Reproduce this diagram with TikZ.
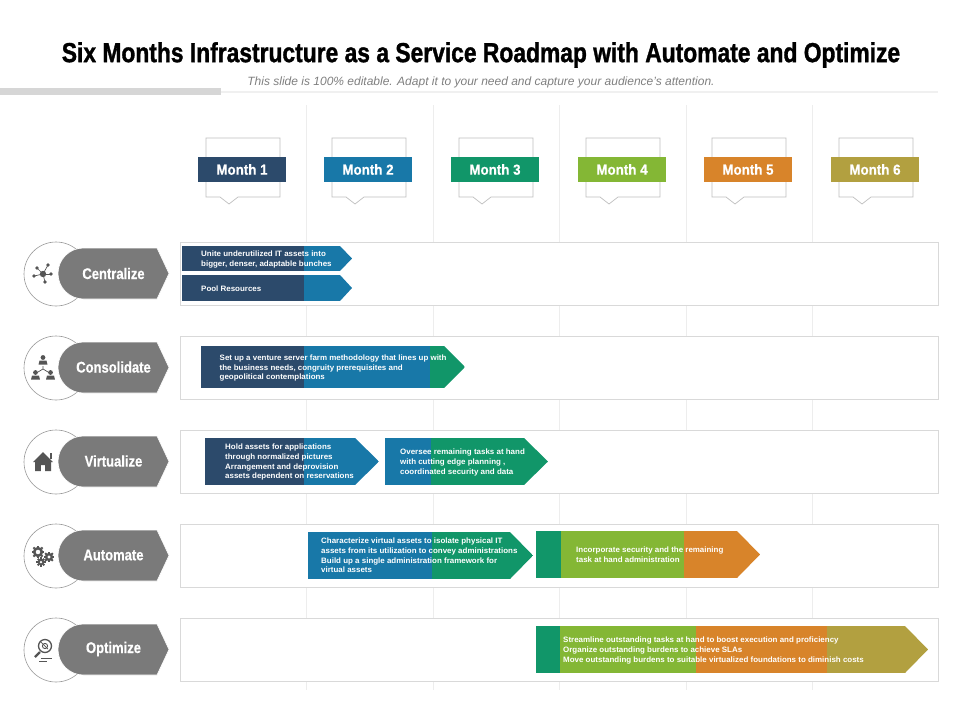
\documentclass[tikz,border=0pt]{standalone}
\usepackage{fontspec}
\setmainfont{Liberation Sans}
\newfontfamily\titlefont[FakeStretch=0.83,FakeBold=1.2]{Liberation Sans Bold}
\newfontfamily\labelfont[FakeStretch=0.92,FakeBold=0.5]{Liberation Sans Bold}
\newfontfamily\pillfont[FakeStretch=0.84,FakeBold=0.6]{Liberation Sans Bold}
\newfontfamily\smallfont[FakeStretch=1.02]{Liberation Sans Bold}
\definecolor{navy}{HTML}{2C4A6B}
\definecolor{blu}{HTML}{1878A8}
\definecolor{grn}{HTML}{119669}
\definecolor{lime}{HTML}{84B735}
\definecolor{orng}{HTML}{D8842A}
\definecolor{olive}{HTML}{B2A040}
\definecolor{pillgray}{HTML}{7A7A7A}
\definecolor{icongray}{HTML}{555555}
\newcommand\arrowclip[5]{\clip (#1,#4)--(#2,#4)--(#3,{(#4+#5)/2})--(#2,#5)--(#1,#5)--cycle;}
\newcommand\seg[5]{\fill[#1] (#2,#4) rectangle (#3,#5);}
\tikzset{
  rowbox/.style={draw=black!15,fill=white,line width=0.9pt},
  gridline/.style={draw=black!7,line width=0.8pt},
  monthbar/.style={minimum width=88pt,minimum height=25pt,inner sep=0pt,text=white,
    font=\labelfont\fontsize{14.5}{16}\selectfont},
  callout/.style={draw=black!25,line width=0.7pt,fill=white},
  ring/.style={draw=black!40,line width=0.6pt,fill=white},
  pill/.style={fill=pillgray,draw=white,line width=0.6pt},
  pilltext/.style={text=white,inner sep=0pt,font=\pillfont\fontsize{15.5}{17}\selectfont},
  tasktext/.style={text=white,inner sep=0pt,anchor=north west,align=left,
    font=\smallfont\fontsize{7.8}{9.7}\selectfont},
  icon/.style={fill=icongray,draw=none},
  iconline/.style={draw=icongray,line width=0.7pt},
}
\begin{document}
\begin{tikzpicture}[x=1pt,y=-1pt]
\useasboundingbox (0,0) rectangle (960,720);
\fill[white] (0,0) rectangle (960,720);
% header
\node[inner sep=0pt,font=\titlefont\fontsize{27.5}{30}\selectfont] (title) at (481,55) {Six Months Infrastructure as a Service Roadmap with Automate and Optimize};
\node[inner sep=0pt,text=black!50,font=\itshape\fontsize{12}{14}\selectfont] (subtitle) at (481,82) {This slide is 100\% editable. Adapt it to your need and capture your audience’s attention.};
\fill[black!6] (221,90.5) rectangle (938,93);
\fill[black!16] (0,88) rectangle (221,95);
% grid
\foreach \gx in {306,433,559.5,686,812.5}{\draw[gridline] (\gx,105) -- (\gx,690);}
% months
\foreach \bx/\n/\c in {242/1/navy,368/2/blu,495/3/grn,622/4/lime,748/5/orng,875/6/olive}{
  \draw[callout] (\bx-36,138) -- (\bx+38,138) -- (\bx+38,197) -- (\bx-4,197) -- (\bx-13,204) -- (\bx-22,197) -- (\bx-36,197) -- cycle;
  \node[monthbar,fill=\c] (month\n) at (\bx,169.5) {Month \n};
}
% rows
\foreach \ry/\nm in {242/r1,336/r2,430/r3,524/r4,618/r5}{
  \draw[rowbox] (180.5,\ry) rectangle (938,\ry+63);
  \draw[ring] (56,\ry+32) circle (32);
  \draw[pill] (83.5,\ry+6) -- (157,\ry+6) -- (169,\ry+31.5) -- (157,\ry+57) -- (83.5,\ry+57) arc[start angle=90,end angle=270,radius=25.5] -- cycle;
}
\foreach \ry/\nm/\tx in {273.5/p1/Centralize,367/p2/Consolidate,461/p3/Virtualize,555/p4/Automate,649/p5/Optimize}{
  \node[pilltext] (\nm) at (113.5,\ry) {\tx};
}
% centralize arrows
\begin{scope}\arrowclip{182}{340}{352}{246}{271}
\seg{navy}{182}{304}{246}{271}\seg{blu}{304}{352}{246}{271}\end{scope}
\node[tasktext] (t1) at (201,251) {Unite underutilized IT assets into\\bigger, denser, adaptable bunches};
\begin{scope}\arrowclip{182}{340}{352}{275}{301}
\seg{navy}{182}{304}{275}{301}\seg{blu}{304}{352}{275}{301}\end{scope}
\node[tasktext] (t2) at (201,285.5) {Pool Resources};
% consolidate
\begin{scope}\arrowclip{201}{444}{465}{346}{388}
\seg{navy}{201}{304}{346}{388}\seg{blu}{304}{430}{346}{388}\seg{grn}{430}{465}{346}{388}\end{scope}
\node[tasktext] (t3) at (219.5,354.5) {Set up a venture server farm methodology that lines up with\\the business needs, congruity prerequisites and\\geopolitical contemplations};
% virtualize
\begin{scope}\arrowclip{205}{355}{379}{438}{485}
\seg{navy}{205}{304}{438}{485}\seg{blu}{304}{379}{438}{485}\end{scope}
\node[tasktext] (t4) at (225,444) {Hold assets for applications\\through normalized pictures\\Arrangement and deprovision\\assets dependent on reservations};
\begin{scope}\arrowclip{385}{524}{548}{438}{485}
\seg{blu}{385}{431}{438}{485}\seg{grn}{431}{548}{438}{485}\end{scope}
\node[tasktext] (t5) at (400,449) {Oversee remaining tasks at hand\\with cutting edge planning ,\\coordinated security and data};
% automate
\begin{scope}\arrowclip{308}{510}{533}{532}{579}
\seg{blu}{308}{432}{532}{579}\seg{grn}{432}{533}{532}{579}\end{scope}
\node[tasktext] (t6) at (321,538) {Characterize virtual assets to isolate physical IT\\assets from its utilization to convey administrations\\Build up a single administration framework for\\virtual assets};
\begin{scope}\arrowclip{536}{737}{760}{531}{578}
\seg{grn}{536}{561}{531}{578}\seg{lime}{561}{684}{531}{578}\seg{orng}{684}{760}{531}{578}\end{scope}
\node[tasktext] (t7) at (576,547) {Incorporate security and the remaining\\task at hand administration};
% optimize
\begin{scope}\arrowclip{536}{905}{928}{626}{673}
\seg{grn}{536}{560}{626}{673}\seg{lime}{560}{696}{626}{673}\seg{orng}{696}{827}{626}{673}\seg{olive}{827}{928}{626}{673}\end{scope}
\node[tasktext] (t8) at (563,637) {Streamline outstanding tasks at hand to boost execution and proficiency\\Organize outstanding burdens to achieve SLAs\\Move outstanding burdens to suitable virtualized foundations to diminish costs};
% icon: centralize
\foreach \ix/\iy in {37/268,48/265,34/276,51/274,45/282}{
  \draw[iconline] (43,274) -- (\ix,\iy);
  \fill[icon] (\ix,\iy) circle (1.8);
}
\fill[icon] (43,274) circle (3.2);
% icon: consolidate
\draw[iconline] (43,366) -- (43,369) -- (38,372) (43,369) -- (48,372);
\foreach \ix/\iy in {43/360,35.5/375,50.5/375}{
  \fill[icon] (\ix,\iy-2.5) circle (2.4);
  \fill[icon] (\ix-4.5,\iy+4.5) -- (\ix-3.5,\iy+0.5) -- (\ix+3.5,\iy+0.5) -- (\ix+4.5,\iy+4.5) -- cycle;
}
% icon: house
\fill[icon] (43,452) -- (53,462) -- (51,462) -- (51,471) -- (45.2,471) -- (45.2,465) -- (40.8,465) -- (40.8,471) -- (35,471) -- (35,462) -- (33,462) -- cycle;
\fill[icon] (49.5,453) rectangle (51.5,459);
% icon: gears
\foreach \ix/\iy/\ir/\ih in {38/552/5.2/2.4,49/557/4.2/1.9,41/562/3.4/1.5}{
  \fill[icongray,even odd rule] (\ix,\iy) circle (\ir) (\ix,\iy) circle (\ih);
  \foreach \a in {0,45,...,315}{\draw[icongray,line width=2.1pt] (\ix,\iy) ++(\a:\ir-0.4) -- ++(\a:1.6);}
}
% icon: optimize
\draw[icongray,line width=1.3pt] (45,646) circle (6.5);
\draw[icongray,line width=0.9pt] (45,646) circle (2.6);
\draw[iconline] (40,641) -- (48,649);
\draw[icongray,line width=2.4pt] (40,652) -- (35,657);
\draw[iconline] (41,658) -- (52,658) (39,661.5) -- (47,661.5);
\end{tikzpicture}
\end{document}
